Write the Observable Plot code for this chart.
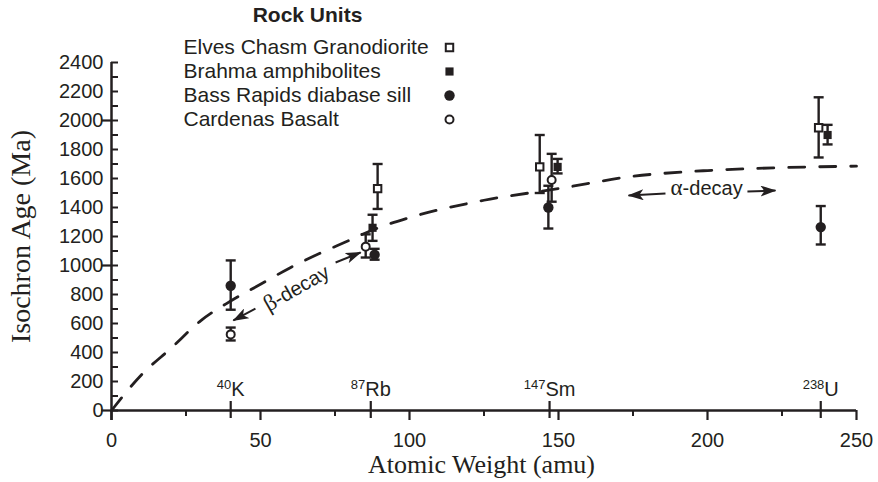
<!DOCTYPE html>
<html><head><meta charset="utf-8">
<script src="https://cdn.jsdelivr.net/npm/d3@7"></script>
<script src="https://cdn.jsdelivr.net/npm/@observablehq/plot@0.6"></script>
<style>body{margin:0;background:#fff}#chart{width:878px;height:482px}</style>
</head><body><div id="chart"></div>
<script>
const INK = "#231f20";
const SANS = "Liberation Sans, Arial, sans-serif";
const SERIF = "Liberation Serif, Times New Roman, serif";

// Rock units (legend)
const units = ["Elves Chasm Granodiorite", "Brahma amphibolites", "Bass Rapids diabase sill", "Cardenas Basalt"];

// Elves Chasm Granodiorite (open square)
const elvesX = [89.3, 143.7, 237.3];
const elvesAge = [1530, 1680, 1950];
const elvesLo = [1390, 1500, 1745];
const elvesHi = [1700, 1900, 2160];

// Brahma amphibolites (filled square)
const brahmaX = [87.6, 149.7, 240.3];
const brahmaAge = [1260, 1680, 1900];
const brahmaLo = [1170, 1635, 1835];
const brahmaHi = [1350, 1735, 1970];

// Bass Rapids diabase sill (filled circle)
const bassX = [40, 88.3, 146.6, 238];
const bassAge = [860, 1075, 1400, 1265];
const bassLo = [695, 1040, 1255, 1145];
const bassHi = [1035, 1115, 1550, 1410];

// Cardenas Basalt (open circle)
const cardX = [40, 85.3, 147.7];
const cardAge = [525, 1130, 1590];
const cardLo = [483, 1055, 1440];
const cardHi = [572, 1215, 1770];

// Dashed trend curve
const curveX = [0, 10, 20, 30, 40, 50, 60, 70, 80, 87, 100, 125, 150, 175, 200, 225, 250];
const curveAge = [0, 245, 430, 620, 755, 870, 985, 1085, 1175, 1240, 1330, 1450, 1530, 1615, 1655, 1675, 1685];

// Isotope markers on the x axis
const isotopeMass = [40, 87, 147, 238];
const isotopeSup = ["40", "87", "147", "238"];
const isotopeSym = ["K", "Rb", "Sm", "U"];

// Axis ticks
const xMajorTicks = [0, 50, 100, 150, 200, 250];
const xMinorTicks = [25, 75, 125, 175, 225];
const yLabelTicks = [0, 200, 400, 600, 800, 1000, 1200, 1400, 1600, 1800, 2000, 2200, 2400];
const yMinorTicks = d3.range(0, 2401, 100);
const yLongTicks = [0, 1000, 2000];

// Decay annotations
const decayGreek = ["β", "α"];
const decayRest = ["-decay", "-decay"];
const decayX = [62.1, 199.7];
const decayAge = [841, 1527];
const decayRotate = [-30, 0];
const arrowX1 = [48.3, 75.2, 185.9, 213.4];
const arrowY1 = [703, 1021, 1497, 1510];
const arrowX2 = [40.9, 83.6, 173.5, 222.8];
const arrowY2 = [621, 1090, 1483, 1517];

const series = (xs, ys, lo, hi) => xs.map((x, i) => ({x, age: ys[i], lo: lo[i], hi: hi[i]}));
const elves = series(elvesX, elvesAge, elvesLo, elvesHi);
const brahma = series(brahmaX, brahmaAge, brahmaLo, brahmaHi);
const bass = series(bassX, bassAge, bassLo, bassHi);
const card = series(cardX, cardAge, cardLo, cardHi);
const allPts = [...elves, ...brahma, ...bass, ...card];
const curve = curveX.map((x, i) => ({x, age: curveAge[i]}));
const arrows = arrowX1.map((x1, i) => ({x1, y1: arrowY1[i], x2: arrowX2[i], y2: arrowY2[i]}));
const decays = decayX.map((x, i) => ({x, age: decayAge[i], rotate: decayRotate[i]}));

const cap = {draw(ctx, size) { const w = Math.sqrt(size / Math.PI); ctx.moveTo(-w, 0); ctx.lineTo(w, 0); }};

const styles = [
  {data: elves, symbol: "square", r: 4.2, fill: "white", strokeWidth: 2},
  {data: brahma, symbol: "square", r: 4.6, fill: INK, strokeWidth: 0},
  {data: bass, symbol: "circle", r: 5.2, fill: INK, strokeWidth: 0},
  {data: card, symbol: "circle", r: 4, fill: "white", strokeWidth: 2}
];

const FH = 348, FW = 745;
const legendCenter = [47, 71, 95, 119];

const plot = Plot.plot({
  width: 878, height: 482,
  marginLeft: 111, marginRight: 22, marginTop: 62, marginBottom: 72,
  x: {domain: [0, 250]},
  y: {domain: [0, 2400]},
  style: {fontFamily: SANS, fontSize: "20px", color: INK, background: "white"},
  marks: [
    Plot.line(curve, {x: "x", y: "age", stroke: INK, strokeWidth: 2.8, strokeDasharray: "16,15", curve: "monotone-x"}),
    // axis lines
    Plot.ruleY([0], {stroke: INK, strokeWidth: 2.5}),
    Plot.ruleX([0], {stroke: INK, strokeWidth: 2.5, insetBottom: -10}),
    // y ticks
    Plot.tickY(yMinorTicks, {y: d => d, stroke: INK, strokeWidth: 2, insetRight: FW - 7}),
    Plot.tickY(yLongTicks, {y: d => d, stroke: INK, strokeWidth: 2.2, insetLeft: -10, insetRight: FW - 1}),
    // x ticks
    Plot.tickX(xMajorTicks, {x: d => d, stroke: INK, strokeWidth: 2.2, insetTop: FH, insetBottom: -10}),
    Plot.tickX(xMinorTicks, {x: d => d, stroke: INK, strokeWidth: 2, insetTop: FH, insetBottom: -6}),
    Plot.tickX(isotopeMass, {x: d => d, stroke: INK, strokeWidth: 2.2, insetTop: FH - 9, insetBottom: -8}),
    Plot.axisX({ticks: xMajorTicks, tickSize: 0, tickPadding: 22, tickFormat: d3.format("d"), label: null, fill: INK}),
    Plot.axisY({ticks: yLabelTicks, tickSize: 0, tickPadding: 8, tickFormat: d3.format("d"), label: null, fill: INK}),
    Plot.text(isotopeMass, {x: d => d, frameAnchor: "bottom", dy: -21, text: (d, i) => isotopeSym[i], textAnchor: "middle", lineAnchor: "middle", fontSize: 20, fill: INK}),
    // axis titles
    Plot.text(["Atomic Weight (amu)"], {frameAnchor: "bottom", text: d => d, dx: -2.5, dy: 54, lineAnchor: "middle", textAnchor: "middle", fontFamily: SERIF, fontSize: 26, fill: INK}),
    Plot.text(["Isochron Age (Ma)"], {frameAnchor: "left", text: d => d, dx: -90, dy: 0, rotate: -90, lineAnchor: "middle", textAnchor: "middle", fontFamily: SERIF, fontSize: 28, fill: INK}),
    // trend annotations
    Plot.link(arrows, {x1: "x1", y1: "y1", x2: "x2", y2: "y2", stroke: INK, strokeWidth: 2}),
    Plot.text(decays, {x: "x", y: "age", rotate: "rotate", text: (d, i) => decayGreek[i] + decayRest[i], fontSize: 20, fill: INK, textAnchor: "middle", lineAnchor: "middle"}),
    // error bars
    Plot.ruleX(allPts, {x: "x", y1: "lo", y2: "hi", stroke: INK, strokeWidth: 2.4}),
    Plot.dot(allPts, {x: "x", y: "lo", symbol: cap, r: 5, stroke: INK, strokeWidth: 2.4}),
    Plot.dot(allPts, {x: "x", y: "hi", symbol: cap, r: 5, stroke: INK, strokeWidth: 2.4}),
    // markers
    ...styles.map(s => Plot.dot(s.data, {x: "x", y: "age", symbol: s.symbol, r: s.r, fill: s.fill, stroke: INK, strokeWidth: s.strokeWidth})),
    // legend
    Plot.text(["Rock Units"], {frameAnchor: "top-left", text: d => d, dx: 196, dy: 15 - 62, textAnchor: "middle", lineAnchor: "middle", fontWeight: "bold", fontSize: 21, fill: INK}),
    ...units.map((u, i) => Plot.text([u], {frameAnchor: "top-left", text: d => d, dx: 72, dy: legendCenter[i] - 62, textAnchor: "start", lineAnchor: "middle", fontSize: 21, fill: INK})),
    ...styles.map((s, i) => Plot.dot([units[i]], {frameAnchor: "top-left", dx: 338, dy: legendCenter[i] - 62, symbol: s.symbol, r: s.r, fill: s.fill, stroke: INK, strokeWidth: s.strokeWidth}))
  ]
});

const NS = "http://www.w3.org/2000/svg";
function tspan(txt, attrs) {
  const t = document.createElementNS(NS, "tspan");
  for (const k in attrs) t.setAttribute(k, attrs[k]);
  t.textContent = txt;
  return t;
}
plot.querySelectorAll("text").forEach(t => {
  const s = t.textContent;
  const i = isotopeSym.indexOf(s);
  if (i >= 0) {
    t.textContent = "";
    t.append(tspan(isotopeSup[i], {"font-size": 13, dy: -7}), tspan(isotopeSym[i], {dy: 7}));
    return;
  }
  const j = decayGreek.findIndex((g, k) => g + decayRest[k] === s);
  if (j >= 0) {
    t.textContent = "";
    t.append(tspan(decayGreek[j], {"font-family": SERIF, "font-size": 23}), tspan(decayRest[j], {}));
  }
});
const defs = document.createElementNS(NS, "defs");
defs.innerHTML = `<marker id="solid-head" viewBox="0 0 16 11" refX="15" refY="5.5" markerWidth="16" markerHeight="11" markerUnits="userSpaceOnUse" orient="auto"><path d="M0,0L16,5.5L0,11L4,5.5z" fill="${INK}"/></marker>`;
plot.prepend(defs);
plot.querySelectorAll('g[aria-label="link"] path').forEach(p => p.setAttribute("marker-end", "url(#solid-head)"));

document.getElementById("chart").append(plot);
</script>
</body></html>
